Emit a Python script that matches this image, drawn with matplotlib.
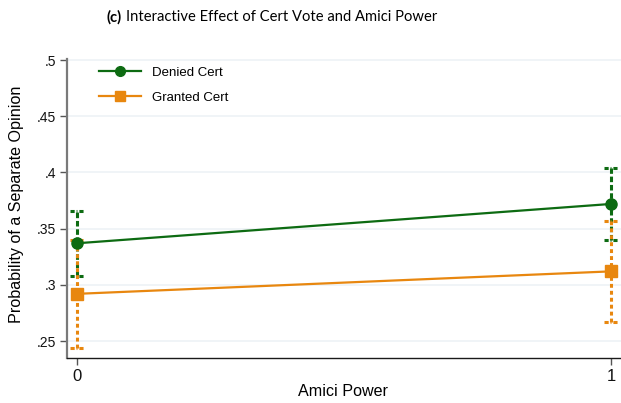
import matplotlib
matplotlib.use("Agg")
import matplotlib.pyplot as plt
from matplotlib.lines import Line2D

plt.rcParams["lines.scale_dashes"] = False

amici_power = [0, 1]
x_ticklabels = ["0", "1"]
y_ticks = [0.25, 0.30, 0.35, 0.40, 0.45, 0.50]
y_ticklabels = [".25", ".3", ".35", ".4", ".45", ".5"]

denied_est = [0.337, 0.372]
denied_lo = [0.308, 0.340]
denied_hi = [0.366, 0.404]

granted_est = [0.292, 0.312]
granted_lo = [0.244, 0.267]
granted_hi = [0.340, 0.357]

GREEN = "#0d6b12"
ORANGE = "#e8870f"

fig = plt.figure(figsize=(6.21, 4.03), dpi=100)
ax = fig.add_axes([67 / 621, 45 / 403, 554 / 621, 299 / 403])

ax.set_xlim(-0.0187, 1.0187)
ax.set_ylim(0.2349, 0.501)

for y in y_ticks:
    ax.axhline(y, color="#eef2f6", lw=1.2, zorder=0)


def ci(xs, lo, hi, color, dashes, z):
    for x, l, h in zip(xs, lo, hi):
        ax.plot([x, x], [l, h], color=color, lw=2.2, dashes=dashes, zorder=z)
        for v in (l, h):
            ax.plot([x - 0.0125, x + 0.0125], [v, v], color=color, lw=2.2,
                    dashes=(3.0, 1.4, 0.6, 1.4, 3.0, 10), zorder=z)


ci(amici_power, denied_lo, denied_hi, GREEN, (4.0, 2.0), 2)
ci(amici_power, granted_lo, granted_hi, ORANGE, (2.8, 2.2), 3)

ax.plot(amici_power, denied_est, color=GREEN, lw=1.6, marker="o", ms=8,
        zorder=4)
ax.plot(amici_power, granted_est, color=ORANGE, lw=1.6, marker="s", ms=8,
        zorder=4)

ax.set_xticks(amici_power)
ax.set_xticklabels(x_ticklabels)
ax.set_yticks(y_ticks)
ax.set_yticklabels(y_ticklabels)

for s in ("top", "right"):
    ax.spines[s].set_visible(False)
ax.spines["left"].set_color("#7a7a7a")
ax.spines["left"].set_linewidth(1.6)
ax.spines["bottom"].set_color("#1a1a1a")
ax.spines["bottom"].set_linewidth(1.0)

ax.tick_params(axis="y", length=5, width=1, color="#555555", pad=3,
               labelsize=10, labelcolor="#111111")
ax.tick_params(axis="x", length=5, width=1, color="#555555", pad=3,
               labelsize=12, labelcolor="#111111")
for lab in ax.get_xticklabels() + ax.get_yticklabels():
    lab.set_fontfamily("Liberation Sans")

fig.text(343 / 621, 1 - 392 / 403, "Amici Power", fontsize=11.6,
         family="Liberation Sans", ha="center", va="center")
fig.text(17 / 621, 1 - 204 / 403, "Probability of a Separate Opinion",
         fontsize=11.6, family="Liberation Sans", rotation=90,
         ha="center", va="center")

handles = [
    Line2D([], [], color=GREEN, lw=1.6, marker="o", ms=7),
    Line2D([], [], color=ORANGE, lw=1.6, marker="s", ms=7),
]
ax.legend(handles, ["Denied Cert", "Granted Cert"], loc="upper left",
          bbox_to_anchor=(0.036, 1.015), frameon=False, handlelength=3.2,
          labelspacing=1.0, prop={"family": "Liberation Sans", "size": 9.5})

ty = 1 - 17 / 403
fig.text(107 / 621, ty, "(c)", fontsize=10.6, family="Lato", weight="bold",
         ha="left", va="center")
fig.text(126 / 621, ty, "Interactive Effect of Cert Vote and Amici Power",
         fontsize=10.6, family="Lato", ha="left", va="center")

fig.savefig("out.png", dpi=100)
